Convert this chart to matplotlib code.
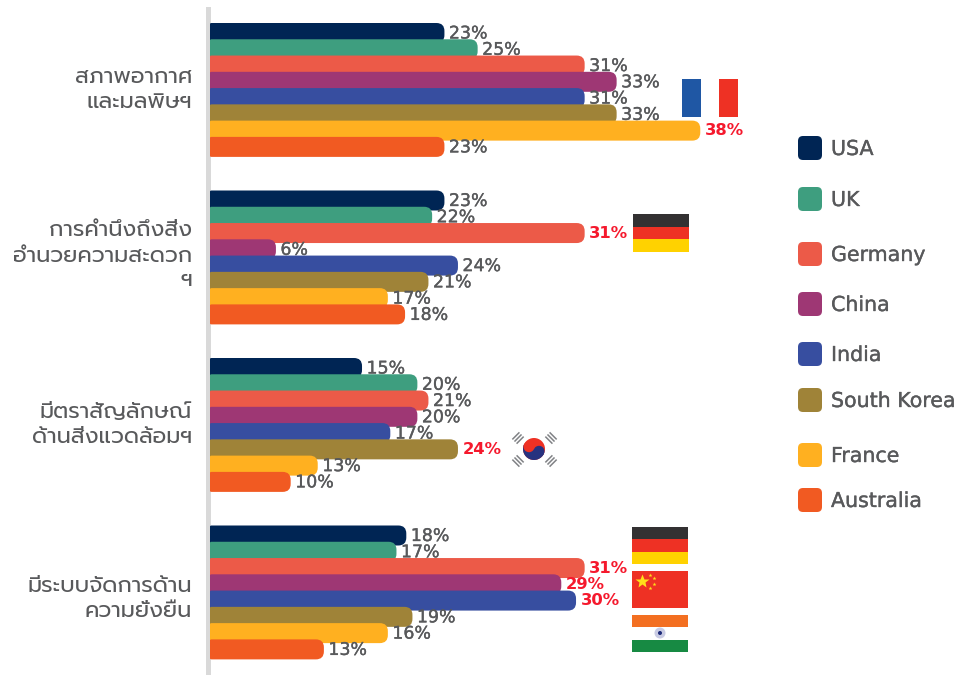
import matplotlib
matplotlib.use('Agg')
import matplotlib.pyplot as plt
import matplotlib.patheffects as pe
from matplotlib.patches import Circle, FancyBboxPatch, PathPatch, Rectangle
from matplotlib.path import Path
from matplotlib.transforms import Affine2D

groups = ['สภาพอากาศ\nและมลพิษฯ',
          'การคำนึงถึงสิ่ง\nอำนวยความสะดวก\nฯ',
          'มีตราสัญลักษณ์\nด้านสิ่งแวดล้อมฯ',
          'มีระบบจัดการด้าน\nความยั่งยืน']
countries = ['USA', 'UK', 'Germany', 'China', 'India', 'South Korea', 'France', 'Australia']
colors = ['#002554', '#3e9e7f', '#ec5a48', '#9e3774', '#374ea0', '#9f8338', '#ffb020', '#f15a22']

# printed percentages
usa = [23, 23, 15, 18]
uk = [25, 22, 20, 17]
germany = [31, 31, 21, 31]
china = [33, 6, 20, 29]
india = [31, 24, 17, 30]
korea = [33, 21, 24, 19]
france = [38, 17, 13, 16]
australia = [23, 18, 10, 13]
values = [usa, uk, germany, china, india, korea, france, australia]

# bar lengths as drawn, the bars in the picture do not follow the printed numbers
usa_len = [19.1, 19.1, 12.4, 16.0]
uk_len = [21.8, 18.1, 16.9, 15.2]
germany_len = [30.5, 30.5, 17.8, 30.5]
china_len = [33.1, 5.4, 16.9, 28.6]
india_len = [30.5, 20.2, 14.7, 29.8]
korea_len = [33.1, 17.8, 20.2, 16.5]
france_len = [39.9, 14.5, 8.8, 14.5]
australia_len = [19.1, 15.9, 6.6, 9.3]
lengths = [usa_len, uk_len, germany_len, china_len, india_len, korea_len, france_len, australia_len]

# (group, country) pairs with the red label
highlight = [(0, 6), (1, 2), (2, 5), (3, 2), (3, 3), (3, 4)]

W, H = 959, 675
PX_PER_UNIT = 12.3
ROW_PX = 16.27
GROUP_PX = 167.5
TOP = 33.0
GRAY = '#58595b'
RED = '#f5192d'
# thin stroke so the text gets the medium weight of the picture
MEDIUM = [pe.withStroke(linewidth=0.25, foreground=GRAY)]


# bar with big round right end and nearly square left end
def rounded_bar(ax, y, length, height, color, zorder):
    rx, ry = 8 / PX_PER_UNIT, 8 / ROW_PX
    lx, ly = 2 / PX_PER_UNIT, 2 / ROW_PX
    top, bot = y - height / 2, y + height / 2
    verts = [(lx, top), (length - rx, top), (length, top), (length, top + ry),
             (length, bot - ry), (length, bot), (length - rx, bot),
             (lx, bot), (0, bot), (0, bot - ly), (0, top + ly), (0, top), (lx, top)]
    codes = [Path.MOVETO, Path.LINETO, Path.CURVE3, Path.CURVE3,
             Path.LINETO, Path.CURVE3, Path.CURVE3,
             Path.LINETO, Path.CURVE3, Path.CURVE3, Path.LINETO, Path.CURVE3, Path.CURVE3]
    ax.add_patch(PathPatch(Path(verts, codes), facecolor=color, edgecolor='none', zorder=zorder))


def stripes(ax, x, y, w, h, cols):
    for i, c in enumerate(cols):
        ax.add_patch(Rectangle((x, y + i * h / len(cols)), w, h / len(cols), facecolor=c, edgecolor='none'))


plt.rcParams['font.family'] = ['Prompt', 'Kanit', 'DejaVu Sans']

fig = plt.figure(figsize=(W / 100, H / 100), dpi=100)

# overlay in pixel coordinates for flags and legend
over = fig.add_axes([0, 0, 1, 1])
over.set_xlim(0, W)
over.set_ylim(H, 0)
over.axis('off')

left = 209.5
ax = fig.add_axes([left / W, 0, 1 - left / W, 1 - 9 / H])
ax.patch.set_alpha(0)
ax.set_xlim(0, (W - left) / PX_PER_UNIT)
ax.set_ylim((H - TOP) / ROW_PX, (9 - TOP) / ROW_PX)
for s in ['top', 'right', 'bottom']:
    ax.spines[s].set_visible(False)
ax.spines['left'].set_color('#d9d9d9')
ax.spines['left'].set_linewidth(3.6)
ax.spines['left'].set_position(('outward', 1.0))
ax.set_xticks([])
ax.set_yticks([])

for g in range(len(groups)):
    for c in range(len(countries)):
        y = g * GROUP_PX / ROW_PX + c
        z = 3 + g * 10 + c
        rounded_bar(ax, y, lengths[c][g], 20 / ROW_PX, colors[c], z)
        red = (g, c) in highlight
        txt = ax.text(lengths[c][g] + 4.5 / PX_PER_UNIT, y - 1.5 / ROW_PX, f'{values[c][g]}%',
                      va='center_baseline', ha='left', fontsize=11.8 if red else 12.5,
                      color=RED if red else GRAY, fontweight='bold' if red else 'normal',
                      family='DejaVu Sans', zorder=z + 0.5)
        if not red:
            txt.set_path_effects(MEDIUM)

# group names
name_y = [90, 256, 425, 599]
for name, y in zip(groups, name_y):
    over.text(192, y, name, ha='right', va='center', fontsize=16.2, color=GRAY, linespacing=1.25)

# legend, spacing in the picture is uneven
legend_y = [148, 199, 254, 304, 354, 400, 455, 500]
for name, col, y in zip(countries, colors, legend_y):
    over.add_patch(FancyBboxPatch((801, y - 9), 18, 18, boxstyle='round,pad=3,rounding_size=5',
                                  facecolor=col, edgecolor='none'))
    over.text(831, y + 1, name, va='center', ha='left', fontsize=14.8, color=GRAY, family='DejaVu Sans',
              path_effects=MEDIUM)

# flags
over.add_patch(Rectangle((682, 79), 19, 38, facecolor='#1f57a4', edgecolor='none'))
over.add_patch(Rectangle((719, 79), 19, 38, facecolor='#ee3124', edgecolor='none'))
stripes(over, 633, 214, 56, 38, ['#333132', '#ee3124', '#ffd200'])
stripes(over, 632, 527, 56, 37, ['#333132', '#ee3124', '#ffd200'])
stripes(over, 632, 615, 56, 37, ['#f36f21', '#ffffff', '#178a43'])
over.add_patch(Rectangle((632, 571), 56, 37, facecolor='#ee3124', edgecolor='none'))
over.plot([642], [581], marker='*', ms=10, color='#ffe01a', mec='none')
over.plot([650, 654, 654, 650], [575, 578, 584, 588], ls='none', marker='*', ms=3, color='#ffe01a', mec='none')
over.add_patch(Circle((660, 633), 5.5, facecolor='#c9cbe3', edgecolor='none'))
over.add_patch(Circle((660, 633), 2, facecolor='#1d2a78', edgecolor='none'))

# korean flag
over.add_patch(Circle((534, 449), 11, facecolor='#ee3124', edgecolor='none'))
over.add_patch(PathPatch(Path.wedge(25, 205), facecolor='#27327f', edgecolor='none',
                         transform=Affine2D().scale(11).translate(534, 449) + over.transData))
over.add_patch(Circle((539, 451.3), 5.5, facecolor='#27327f', edgecolor='none'))
over.add_patch(Circle((529, 446.7), 5.5, facecolor='#ee3124', edgecolor='none'))
for cx, cy, ang in [(518, 438, -45), (551, 438, 45), (518, 461, 45), (551, 461, -45)]:
    for k in (-3, 0, 3):
        tr = Affine2D().rotate_deg(ang).translate(cx, cy) + over.transData
        over.plot([-5, 5], [k, k], color='#808285', lw=1.1, transform=tr, solid_capstyle='butt')

fig.savefig('out.png', dpi=100)
